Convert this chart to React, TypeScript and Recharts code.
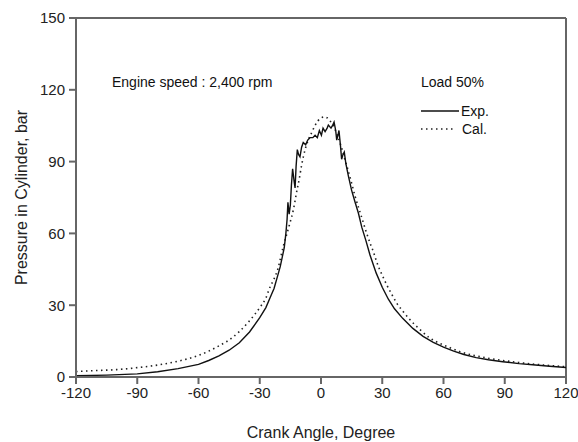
import React from 'react';
import { LineChart, Line, XAxis, YAxis, ReferenceLine, Label } from 'recharts';

// Exp. (measured) curve
const expAngle = [
  -120, -105, -90, -80, -70, -60, -55, -50, -45, -40, -35, -30, -27, -25, -23, -21, -20, -19, -18,
  -17.2, -16.6, -16.2, -15.6, -15, -14.5, -13.9, -13.2, -12.7, -12.2, -11.6, -11, -10.3, -9.5,
  -8.7, -7.5, -6.5, -5.4, -4, -2.9, -1.8, -0.8, 0.2, 1, 2, 3, 3.6, 4.9, 5.6, 6.4, 7.2, 7.7, 8.3,
  8.8, 9.5, 10.1, 10.8, 11.4, 12.2, 13.4, 15, 16.7, 18.3, 20, 22, 24, 27, 30, 33, 36, 40, 45,
  50, 55, 60, 65, 70, 76, 82, 89, 97, 105, 112, 120,
];
const expPressure = [
  0.5, 0.8, 1.3, 2.2, 3.5, 5.3, 6.9, 8.8, 11.2, 14.3, 18.8, 24.8, 29, 33, 37, 43, 46, 50, 54,
  60, 66, 73, 68, 72, 80, 87, 82, 79, 88, 95, 93, 92, 96,
  98, 97, 99, 100, 100, 101, 100, 103, 101, 104, 102.5, 104, 105.3, 104, 105, 106.5, 103, 99, 101,
  103, 97, 91, 93, 94, 89, 84, 78, 73, 68.5, 62.5, 57, 51, 43.5, 37.5, 32.5, 28.5, 24.5, 20.3,
  17, 14.5, 12.5, 10.8, 9.4, 8.1, 7.2, 6.4, 5.6, 5, 4.5, 4,
];

// Cal. (calculated) curve
const calAngle = [
  -120, -110, -100, -90, -80, -70, -60, -50, -45, -40, -35, -30, -27, -25, -23, -21, -20, -18.5,
  -17, -15.5, -13.5, -12, -10.6, -9.5, -7.8, -6, -4.6, -3, -1.5, 0, 1.5, 3, 4.5, 6, 8, 10, 12,
  13.4, 15, 16.7, 18.5, 20, 22, 24, 25.6, 27.3, 30, 32.2, 35, 37, 40.3, 43, 48.5, 53, 58.3, 63,
  68, 75, 81, 90, 97.5, 105, 112, 120,
];
const calPressure = [
  2.3, 2.7, 3.1, 3.9, 5, 6.6, 9, 13, 15.5, 19, 23.5, 29, 33, 37.5, 41, 45.5, 49, 54.5,
  59, 63.5, 70, 77, 83, 88.5, 95, 99.5, 102, 105, 107, 108.2, 108.7, 108.3, 107, 105, 101, 96, 90,
  86, 81, 75.5, 70.5, 66.5, 61, 56, 52.5, 48, 42.5, 38.5, 34, 31, 27.3, 24.5, 19.8, 16.5, 14, 12.3,
  10.6, 9, 8, 6.8, 6, 5.3, 4.8, 4.3,
];

const xTicks = [-120, -90, -60, -30, 0, 30, 60, 90, 120];
const yTicks = [0, 30, 60, 90, 120, 150];

const expData = expAngle.map((a, i) => ({ angle: a, p: expPressure[i] }));
const calData = calAngle.map((a, i) => ({ angle: a, p: calPressure[i] }));

const FONT = '"Liberation Sans", Arial, sans-serif';
const AXIS = '#666';

export default function App() {
  return (
    <div style={{ position: 'absolute', left: 0, top: 0, width: 578, height: 442, background: '#fff', fontFamily: FONT }}>
      <LineChart width={578} height={442} margin={{ top: 18, right: 12, bottom: 0, left: 0 }}>
        <XAxis
          dataKey="angle"
          type="number"
          domain={[-120, 120]}
          ticks={xTicks}
          allowDuplicatedCategory={false}
          height={65}
          stroke={AXIS}
          strokeWidth={2}
          tickSize={7}
          tick={{ fill: '#222', fontSize: 15, fontFamily: FONT }}
          tickMargin={3}
        >
          <Label value="Crank Angle, Degree" position="insideBottom" offset={4} style={{ fill: '#222', fontSize: 16, fontFamily: FONT }} />
        </XAxis>
        <YAxis
          type="number"
          domain={[0, 150]}
          ticks={yTicks}
          width={76}
          stroke={AXIS}
          strokeWidth={2}
          tickSize={7}
          tick={{ fill: '#222', fontSize: 15, fontFamily: FONT }}
          tickMargin={4}
        >
          <Label value="Pressure in Cylinder, bar" angle={-90} position="insideLeft" offset={21} style={{ textAnchor: 'middle', fill: '#222', fontSize: 16, fontFamily: FONT }} />
        </YAxis>
        <ReferenceLine y={150} stroke={AXIS} strokeWidth={2} />
        <ReferenceLine x={120} stroke={AXIS} strokeWidth={2} />
        <Line data={calData} dataKey="p" type="monotone" stroke="#222" strokeWidth={1.6} strokeDasharray="1.5 3.5" dot={false} isAnimationActive={false} />
        <Line data={expData} dataKey="p" type="linear" stroke="#111" strokeWidth={1.4} dot={false} isAnimationActive={false} />
      </LineChart>
      <svg width={578} height={442} style={{ position: 'absolute', left: 0, top: 0, pointerEvents: 'none' }}>
        <g fontFamily={FONT} fontSize={14} fill="#111">
          <text x={112} y={87}>Engine speed : 2,400 rpm</text>
          <text x={421} y={87}>Load 50%</text>
          <line x1={421} y1={111} x2={459} y2={111} stroke="#111" strokeWidth={1.4} />
          <text x={461} y={116}>Exp.</text>
          <line x1={421} y1={129} x2={455} y2={129} stroke="#222" strokeWidth={1.6} strokeDasharray="1.5 3.5" />
          <text x={462} y={134}>Cal.</text>
        </g>
      </svg>
    </div>
  );
}
